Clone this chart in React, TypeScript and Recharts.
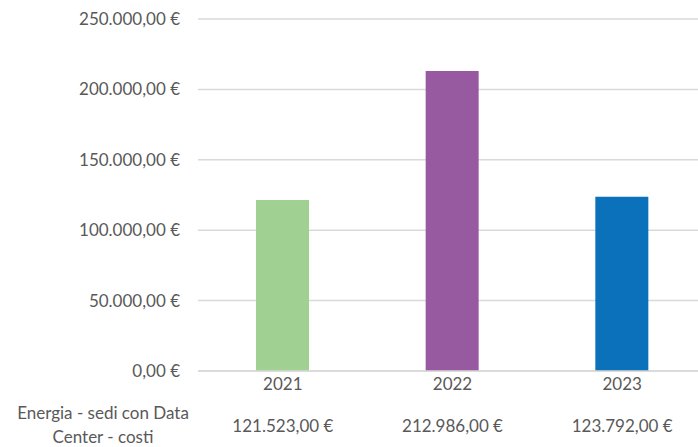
import { BarChart, Bar, XAxis, YAxis, CartesianGrid, Cell } from 'recharts';

const years = ['2021', '2022', '2023'];
const costs = [121523, 212986, 123792];
const barColors = ['#A0D192', '#975AA1', '#0B71BA'];
const yTicks = [0, 50000, 100000, 150000, 200000, 250000];
const rowLabel = ['Energia - sedi con Data', 'Center - costi'];

const FONT = 'Lato, "Open Sans", sans-serif';
const TEXT = '#595959';

const data = years.map((year, i) => ({ year, cost: costs[i] }));

function euro(v: number) {
  return (
    v.toLocaleString('it-IT', { minimumFractionDigits: 2, maximumFractionDigits: 2, useGrouping: 'always' } as any) +
    ' €'
  );
}

function YearTick(props: any) {
  const { x, y, payload, index } = props;
  return (
    <g>
      <text x={x} y={y} dy={11} textAnchor="middle" fill={TEXT} fontSize={17} fontFamily={FONT}>
        {payload.value}
      </text>
      <text x={x} y={y} dy={53} textAnchor="middle" fill={TEXT} fontSize={17} fontFamily={FONT}>
        {euro(costs[index])}
      </text>
    </g>
  );
}

export default function App() {
  return (
    <div
      style={{
        position: 'fixed',
        left: 0,
        top: 0,
        width: 698,
        height: 447,
        overflow: 'hidden',
        background: '#fff',
      }}
    >
      <BarChart
        width={707}
        height={447}
        data={data}
        margin={{ top: 19, right: 0, bottom: 0, left: 0 }}
      >
        <CartesianGrid vertical={false} stroke="#D9D9D9" strokeWidth={1.5} />
        <XAxis
          dataKey="year"
          height={76}
          tickLine={false}
          axisLine={{ stroke: '#D9D9D9', strokeWidth: 1.5 }}
          tick={<YearTick />}
          interval={0}
        />
        <YAxis
          width={198}
          domain={[0, 250000]}
          ticks={yTicks}
          tickFormatter={euro}
          axisLine={false}
          tickLine={false}
          tickSize={0}
          tickMargin={18}
          tick={{ fill: TEXT, fontSize: 17, fontFamily: FONT }}
        />
        <Bar dataKey="cost" barSize={53} isAnimationActive={false}>
          {data.map((d, i) => (
            <Cell key={d.year} fill={barColors[i]} />
          ))}
        </Bar>
      </BarChart>
      <div
        style={{
          position: 'absolute',
          left: 0,
          top: 401,
          width: 206,
          textAlign: 'center',
          color: TEXT,
          fontSize: 17,
          fontFamily: FONT,
          lineHeight: '24px',
        }}
      >
        {rowLabel.map((line) => (
          <div key={line}>{line}</div>
        ))}
      </div>
    </div>
  );
}
